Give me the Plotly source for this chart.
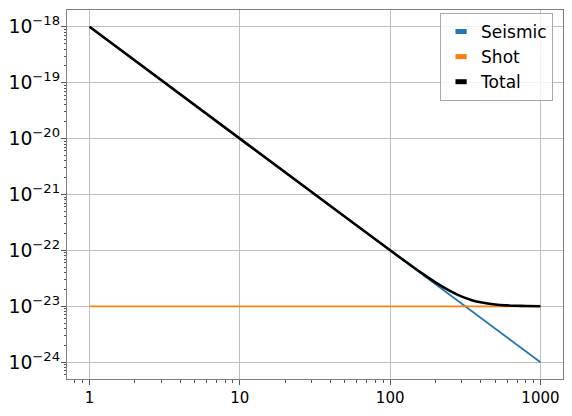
import plotly.graph_objects as go

# frequencies and noise levels
freq = [1, 10, 100, 1000]
seismic = [1e-18, 1e-20, 1e-22, 1e-24]
shot = [1e-23, 1e-23, 1e-23, 1e-23]

total_freq = [1, 10, 50, 100, 130, 160, 200, 250, 300, 350, 400, 500, 600, 700, 800, 1000]
total = [1e-18, 1e-20, 4.0e-22, 1.005e-22, 6.0e-23, 4.03e-23, 2.69e-23, 1.89e-23, 1.49e-23,
         1.29e-23, 1.18e-23, 1.077e-23, 1.038e-23, 1.021e-23, 1.012e-23, 1.005e-23]

names = ["Seismic", "Shot", "Total"]
colors = ["#1f77b4", "#ff7f0e", "#000000"]

xticks = [1, 10, 100, 1000]
xlabels = ["1", "10", "100", "1000"]

fig = go.Figure()
fig.add_scatter(x=freq, y=seismic, mode="lines", line=dict(color=colors[0], width=1.8), showlegend=False)
fig.add_scatter(x=freq, y=shot, mode="lines", line=dict(color=colors[1], width=1.8), showlegend=False)
fig.add_scatter(x=total_freq, y=total, mode="lines", line=dict(color=colors[2], width=2.6, shape="spline"),
                showlegend=False)

# legend entries drawn as flat patches like the original
for name, c in zip(names, colors):
    fig.add_scatter(x=[None], y=[None], mode="markers", name=name,
                    marker=dict(symbol="line-ew", size=8, color=c, line=dict(width=7, color=c)))

axis_common = dict(
    type="log", automargin=False,
    showline=True, mirror=True, linecolor="#808080", linewidth=1,
    ticks="outside", ticklen=5, tickcolor="#555555",
    showgrid=True, gridcolor="#c0c0c0", gridwidth=0.8,
    zeroline=False,
    tickfont=dict(size=15),
    minor=dict(ticks="outside", ticklen=2.5, tickcolor="#555555", showgrid=False, dtick="D1"),
)

fig.update_xaxes(range=[-0.15, 3.15], tickvals=xticks, ticktext=xlabels, **axis_common)
fig.update_yaxes(range=[-24.3, -17.7], dtick=1, exponentformat="power", ticklabelstandoff=-2,
                 **axis_common)

# page body adds an 8px offset, so the figure is a bit smaller than the window
fig.update_layout(
    width=564, height=408,
    margin=dict(l=59, r=9, t=2, b=37),
    plot_bgcolor="white", paper_bgcolor="white",
    font=dict(family="DejaVu Sans", size=15, color="black"),
    legend=dict(x=0.98, y=0.992, xanchor="right", yanchor="top",
                bgcolor="rgba(255,255,255,0.8)", bordercolor="#aaaaaa", borderwidth=1,
                font=dict(size=17), tracegroupgap=0, entrywidth=66),
)

fig.write_html("out.html")
